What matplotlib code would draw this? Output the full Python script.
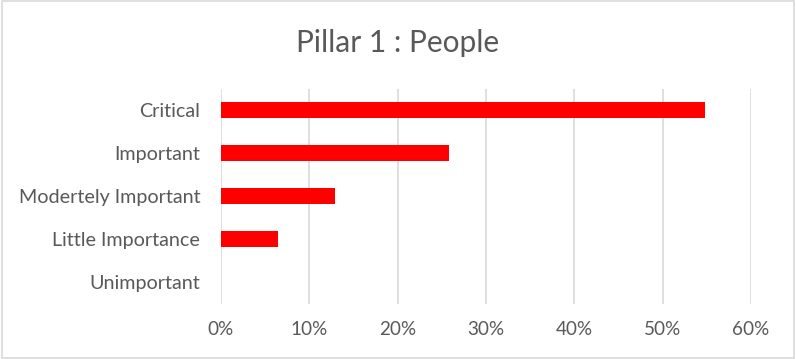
import matplotlib
matplotlib.use("Agg")
import matplotlib.pyplot as plt
from matplotlib.patches import Rectangle
from matplotlib.ticker import PercentFormatter

categories = ["Critical", "Important", "Modertely Important", "Little Importance", "Unimportant"]
values = [0.548, 0.258, 0.129, 0.065, 0.0]
x_ticks = [0, 0.1, 0.2, 0.3, 0.4, 0.5, 0.6]
title = "Pillar 1 : People"

plt.rcParams['font.family'] = ['Lato', 'DejaVu Sans']
text_color = "#595959"

fig = plt.figure(figsize=(7.96, 3.59), dpi=100)
ax = fig.add_axes([221/796, 1-304/359, (751-221)/796, (304-88.5)/359])

ypos = list(range(len(categories)))
ax.barh(ypos, values, height=0.37, color="#FF0000", zorder=3)
ax.set_yticks(ypos)
ax.set_yticklabels(categories, color=text_color, fontsize=14.2)
ax.set_ylim(len(categories)-0.5, -0.5)
ax.set_xlim(0, 0.6)
ax.set_xticks(x_ticks)
ax.xaxis.set_major_formatter(PercentFormatter(1.0, decimals=0))
ax.tick_params(axis='x', colors=text_color, labelsize=13.6, length=0, pad=12.5)
ax.tick_params(axis='y', length=0, pad=15)
ax.grid(axis='x', color="#D9D9D9", linewidth=1.2, zorder=0)
for s in ax.spines.values():
    s.set_visible(False)

fig.text(398/796, 1-43/359, title, ha='center', va='center', fontsize=21.5, color=text_color)
fig.patches.append(Rectangle((0.002, 0.003), 0.996, 0.994, transform=fig.transFigure,
                             fill=False, edgecolor="#D9D9D9", linewidth=1.2))

fig.savefig("out.png", dpi=100)
